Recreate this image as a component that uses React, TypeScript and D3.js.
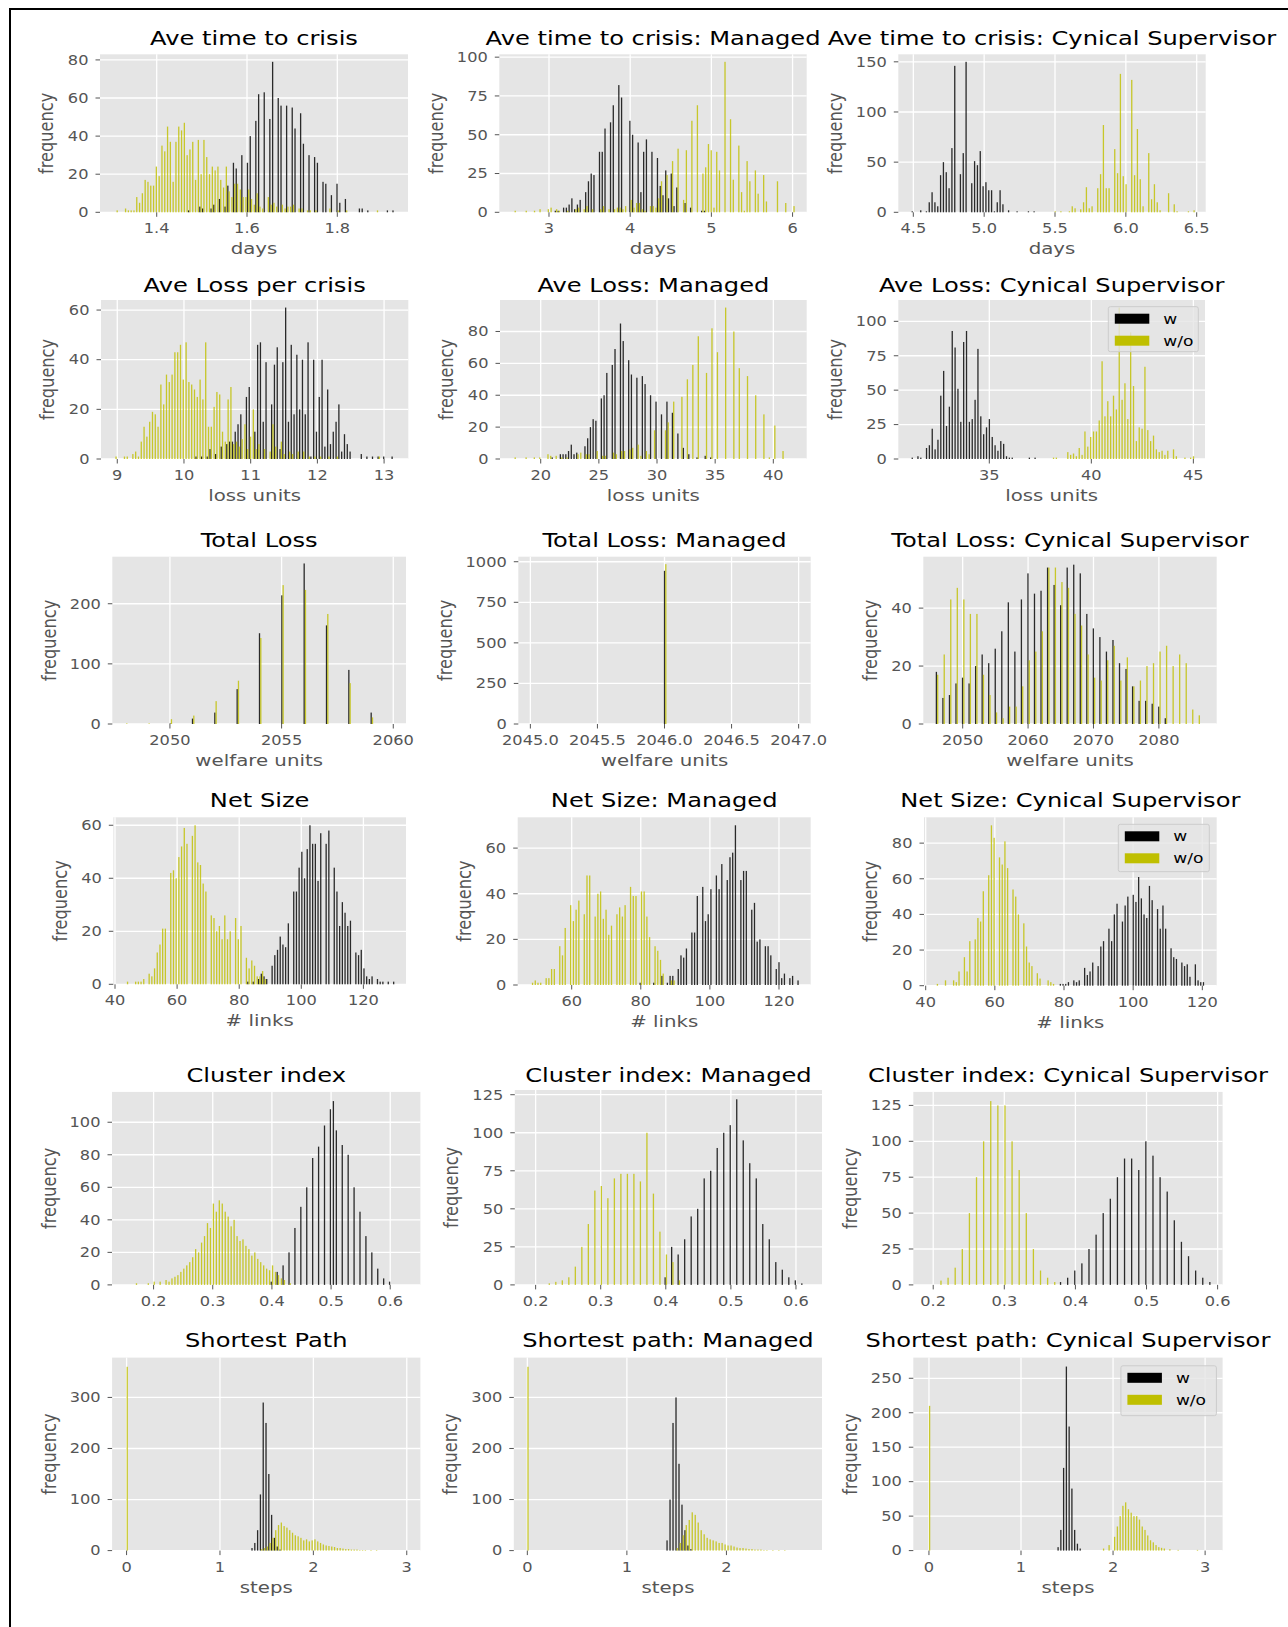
import React from "react";
import * as d3 from "d3";

// text in the picture is stretched sideways, so every label is scaled by this
const SX = 1.22;
const FONT = "DejaVu Sans, Verdana, sans-serif";
const BLACK = "#000000";
const YELLOW = "#bfbf00";

// ---- counts per histogram bin; w = black series, wo = yellow series ----
const crisisW = [0,0,0,0,0,0,0,0,0,0, 0,0,0,0,0,0,0,0,0,0, 0,0,0,0,0,0,1,0,0,0, 3,2,0,0,2,4,0,7,0,3, 14,0,26,23,0,30,0,26,40,0, 48,62,0,63,0,49,79,0,60,56, 0,56,0,55,44,0,52,36,0,30, 0,29,26,0,16,15,0,9,0,15, 5,0,7,0,0,0,0,2,2,0, 1,0,0,0,0,0,0,1,0,1];
const crisisWo = [1,0,0,2,1,1,1,8,5,10, 17,16,14,14,24,19,35,32,45,37, 16,37,45,43,47,30,33,37,17,38, 20,38,29,20,24,22,24,17,13,24, 11,8,15,15,12,8,8,12,7,4, 10,3,2,0,8,4,5,3,0,4, 2,3,3,4,0,2,2,0,1,1, 0,1,0,0,0,0,2,0,0,1, 0,0,1,0,0,0,0,0,0,0, 0,0,0,1];

const mCrisisW = [0,0,0,0,0,0,0,0,0,0, 0,0,0,0,0,1,1,0,3,3, 5,9,2,5,8,0,13,20,25,24, 0,39,39,54,0,58,69,0,82,74, 0,0,59,50,0,45,13,39,47,0, 39,0,35,17,11,27,9,25,4,16, 0,0,6,0,3,0,0,0,1,1];
const mCrisisWo = [1,0,0,0,1,0,0,1,0,2, 0,0,2,3,0,2,1,0,0,1, 0,0,2,3,0,2,4,0,2,0, 0,2,4,0,2,0,2,3,3,2, 4,0,8,3,6,6,2,1,0,4, 4,3,9,20,0,24,0,33,0,41, 0,8,40,0,59,0,69,0,25,29, 44,40,3,39,27,0,97,0,60,21, 0,43,13,1,33,20,0,27,12,0, 24,7,0,0,0,20,0,0,6,0, 0,4];

const cCrisisW = [1,0,0,2,0,1,10,20,10,6, 37,50,40,24,64,146,0,38,59,150, 0,29,51,47,61,26,30,22,22,1, 10,22,8,0,2,0,0,1,0,0, 0,1,0,1];
const cCrisisWo = [0,0,0,0,0,0,0,0,0,0, 0,0,0,0,0,0,0,0,0,0, 0,0,0,0,0,0,0,0,0,0, 0,0,0,0,0,0,0,0,0,0, 0,0,0,0,0,0,0,0,0,0, 1,0,1,0,0,1,6,4,0,3, 10,25,4,6,0,24,38,87,24,24, 0,63,39,138,36,28,0,132,37,83, 33,6,0,59,13,28,10,2,0,0, 19,0,8,1,0,0,0,1,0,2];

const lossW = [0,0,0,0,0,0,0,0,0,0, 0,0,0,0,0,0,0,0,0,0, 0,0,0,0,0,0,0,0,0,1, 0,1,0,1,4,0,2,0,5,0, 6,7,7,11,14,18,0,25,29,0, 11,46,47,15,39,0,22,38,45,4, 39,61,15,46,18,42,20,40,18,47, 1,40,11,25,40,5,28,6,11,15, 22,3,10,6,3,0,0,0,2,0, 1,0,1,0,1,0,1,0,0,1];
const lossWo = [1,0,0,1,1,0,2,3,1,7, 13,9,15,19,18,13,30,22,34,31, 34,43,43,46,32,47,31,30,28,25, 32,24,47,13,13,21,27,26,11,7, 24,29,6,7,5,8,14,4,9,20, 4,6,0,4,0,3,14,5,0,7, 2,0,3,2,0,3,0,3,0,1, 0,1,0,1,0,0,1,0,0,1, 0,0,0,0,0,0,0,0,0,0, 0,0,0,0,1];

const mLossW = [0,0,0,0,0,0,0,0,0,0, 0,0,0,0,1,0,0,3,3,3, 5,9,3,4,0,0,8,13,20,25, 24,0,38,40,54,0,59,69,0,85, 74,0,62,53,0,51,0,52,47,0, 40,0,36,0,28,0,36,0,29,0, 16,0,7,0,3,0,0,1,0,0, 2,0,1];
const mLossWo = [1,0,0,0,1,0,0,1,0,1, 0,0,3,2,0,2,0,1,0,1, 0,0,0,3,4,0,3,3,0,0, 5,0,2,2,0,0,4,3,0,5, 5,0,6,7,0,9,2,0,5,3, 0,18,0,0,0,18,23,0,36,0, 0,39,0,50,0,59,0,77,0,0, 54,0,82,0,67,0,0,95,0,0, 80,0,57,0,0,52,0,0,40,0, 0,28,0,1,0,21,0,0,5];

const cLossW = [1,0,2,1,0,8,10,22,7,14, 46,64,24,38,93,81,51,27,85,93, 27,29,43,80,31,18,23,29,16,10, 6,13,11,2,1,1,0,0,0,0, 0,1,0,1];
const cLossWo = [0,0,0,0,0,0,0,0,0,0, 0,0,0,0,0,0,0,0,0,0, 0,0,0,0,0,0,0,0,0,0, 0,0,0,0,0,0,0,0,0,0, 0,0,0,0,0,0,0,0,0,1, 1,0,0,0,5,3,4,2,8,3, 20,9,16,20,20,28,71,31,42,31, 46,36,110,43,55,29,92,53,13,23, 22,67,21,13,17,7,5,6,3,6, 0,7,2,0,0,1,0,1,2];

const totalW = [0,0,1,9,19,58,151,214,267,164,90,19];
const totalWo = [1,1,8,14,38,72,143,231,223,183,68,11];

const mTotalW = [944];
const mTotalWo = [985];

const cTotalW = [18,9,10,14,16,14,20,24,21,26, 32,42,25,43,52,45,46,54,48,41, 54,55,52,38,33,30,25,29,21,19, 13,8,8,7,6,2];
const cTotalWo = [17,24,43,47,43,38,38,17,10,4, 2,6,6,13,22,25,32,54,54,49, 47,38,34,24,16,15,22,27,15,23, 13,15,20,21,25,27,20,24,21,5, 3];

const sizeW = [0,0,0,0,0,0,0,0,0,0, 0,0,0,0,0,0,0,0,0,0, 0,0,0,0,0,0,0,0,0,0, 0,0,0,0,0,0,0,0,0,0, 0,0,0,0,0,1,0,1,0,2, 4,3,2,0,7,11,13,18,15,14, 23,0,35,35,44,50,40,51,60,53, 53,39,57,0,53,58,0,44,35,22, 31,27,22,24,0,12,11,13,6,3, 2,3,0,2,1,1,0,1,0,1];
const sizeWo = [1,0,0,1,1,1,2,0,4,3, 6,12,15,21,21,0,42,43,40,48, 52,59,53,0,56,60,46,45,38,35, 0,26,25,20,22,17,26,17,20,0, 25,17,22,0,10,6,9,7,3,3, 5,2];

const mSizeW = [0,0,0,0,0,0,0,0,0,0, 0,0,0,0,0,0,0,0,0,0, 0,0,0,0,0,0,0,0,0,0, 0,0,0,0,0,0,0,0,0,0, 1,0,0,0,0,1,0,0,4,0, 1,4,4,0,7,13,12,16,0,23, 23,39,0,43,28,31,42,0,48,42, 53,0,46,56,58,70,0,46,50,50, 0,33,36,19,20,0,17,17,13,0, 7,10,3,5,0,3,4,0,2];
const mSizeWo = [1,2,1,1,0,3,3,7,7,0, 17,13,25,0,35,28,33,37,0,31, 48,48,0,30,40,41,29,33,22,26, 0,31,34,30,35,0,43,39,39,0, 41,41,30,21,0,17,15,11,5,0, 0,2,2];

const cSizeW = [0,0,0,0,0,0,0,0,0,0, 0,0,0,0,0,0,0,0,0,0, 0,0,0,0,0,0,0,0,0,0, 0,0,0,0,0,0,0,0,0,0, 0,0,0,0,0,0,1,1,1,2, 0,3,2,3,0,10,6,8,13,0, 11,22,25,0,32,25,40,46,0,36, 45,50,0,51,47,61,49,40,38,56, 48,0,43,32,45,32,0,21,16,15, 0,13,11,12,5,0,12,3,2,2];
const cSizeWo = [1,0,0,3,0,0,3,2,8,0, 16,8,25,0,26,38,36,53,0,62, 90,83,0,72,68,81,66,0,54,50, 40,0,35,22,13,11,0,7,4,0, 0,3,2,1];

const clusterW = [0,0,0,0,0,0,0,0,0,0, 0,0,0,0,0,0,0,0,0,0, 0,0,0,0,0,0,0,0,0,0, 0,0,0,0,0,0,0,0,0,0, 0,0,0,0,0,0,0,0,0,0, 2,0,8,0,12,0,20,0,35,0, 48,0,60,0,78,0,85,0,98,0, 108,113,95,0,86,0,80,0,60,0, 45,0,30,0,20,0,10,0,4,0, 2];
const clusterWo = [0,0,0,0,1,0,0,0,1,0, 2,0,2,0,3,2,4,5,6,8, 10,12,14,17,22,20,26,30,38,35, 50,45,52,50,45,42,36,40,30,27, 28,24,22,18,20,16,14,12,10,9, 12,8,6,4,3,0,1];

const mClusterW = [0,0,0,0,0,0,0,0,0,0, 0,0,0,0,0,0,0,0,0,0, 5,25,20,30,45,50,70,75,90,100, 105,122,95,80,70,40,30,15,10,5, 3,1];
const mClusterWo = [0,0,1,2,3,5,12,25,40,62, 65,57,70,73,73,73,68,100,60,35, 20,15,3];

const cClusterW = [0,0,0,0,0,0,0,0,0,0, 0,0,0,0,0,0,0,0,2,5, 10,15,25,35,50,60,75,88,88,80, 100,90,75,65,45,30,20,10,5,2];
const cClusterWo = [0,3,5,12,25,50,75,100,128,125, 125,100,80,50,25,10,5,2];

const pathW = [0,0,0,0,0,0,0,0,0,0, 0,0,0,0,0,0,0,0,0,0, 0,0,0,0,0,0,0,0,0,0, 0,0,0,0,0,0,0,0,0,0, 0,0,0,0,0,5,15,40,110,290, 250,150,70,25,8,2];
const pathWo = [360,0,0,0,0,0,0,0,0,0, 0,0,0,0,0,0,0,0,0,0, 0,0,0,0,0,0,0,0,0,0, 0,0,0,0,0,0,0,0,0,0, 0,0,0,0,0,0,0,0,3,5, 8,15,25,40,50,55,48,45,40,35, 30,28,25,20,22,18,20,22,18,15, 12,10,9,8,7,5,5,4,3,3, 2,2,2,1,1,1,0,1,0,1];

const mPathW = [0,0,0,0,0,0,0,0,0,0, 0,0,0,0,0,0,0,0,0,0, 0,0,0,0,0,0,0,0,0,0, 0,0,0,0,0,0,0,0,0,0, 0,0,0,0,0,0,0,20,100,250, 300,170,90,40,10,3];
const mPathWo = [360,0,0,0,0,0,0,0,0,0, 0,0,0,0,0,0,0,0,0,0, 0,0,0,0,0,0,0,0,0,0, 0,0,0,0,0,0,0,0,0,0, 0,0,0,0,0,0,0,0,0,0, 5,15,30,50,60,75,70,55,40,32, 25,22,20,18,15,15,12,10,10,8, 6,5,5,4,3,3,2,2,2,1, 1,0,1,0,1,0,1];

const cPathW = [0,0,0,0,0,0,0,0,0,0, 0,0,0,0,0,0,0,0,0,0, 0,0,0,0,0,0,0,0,0,0, 0,0,0,0,0,0,0,0,0,0, 0,0,0,0,0,0,0,5,30,120, 267,180,90,30,10,3];
const cPathWo = [210,0,0,0,0,0,0,0,0,0, 0,0,0,0,0,0,0,0,0,0, 0,0,0,0,0,0,0,0,0,0, 0,0,0,0,0,0,0,0,0,0, 0,0,0,0,0,0,0,0,0,0, 0,0,0,0,0,0,0,0,0,0, 0,0,0,3,0,8,0,20,35,50, 65,70,60,55,50,50,45,35,30,22, 15,12,8,5,4,3,0,2,0,0, 1,0,0,0,0,0,0,1];

const titles = [
  "Ave time to crisis", "Ave time to crisis: Managed", "Ave time to crisis: Cynical Supervisor",
  "Ave Loss per crisis", "Ave Loss: Managed", "Ave Loss: Cynical Supervisor",
  "Total Loss", "Total Loss: Managed", "Total Loss: Cynical Supervisor",
  "Net Size", "Net Size: Managed", "Net Size: Cynical Supervisor",
  "Cluster index", "Cluster index: Managed", "Cluster index: Cynical Supervisor",
  "Shortest Path", "Shortest path: Managed", "Shortest path: Cynical Supervisor",
];
const xLabels = ["days", "loss units", "welfare units", "# links", "", "steps"];
const legendNames = ["w", "w/o"];

type Panel = {
  box: [number, number, number, number];
  xDomain: [number, number];
  yMax: number;
  xTicks: number[];
  xFmt: string;
  yTicks: number[];
  start: number;
  step: number;
  binW: number;
  w: number[];
  wo: number[];
  legend?: [number, number, number, number];
};

const panels: Panel[] = [
  { box: [100, 408, 54.3, 212.3], xDomain: [1.2744, 1.9566], yMax: 82.95, xTicks: [1.4, 1.6, 1.8], xFmt: ".1f", yTicks: [0, 20, 40, 60, 80], start: 1.311, step: 0.0062, binW: 0.0062, w: crisisW, wo: crisisWo },
  { box: [499.3, 806.7, 54.3, 212.3], xDomain: [2.388, 6.174], yMax: 101.85, xTicks: [3, 4, 5, 6], xFmt: "d", yTicks: [0, 25, 50, 75, 100], start: 2.576, step: 0.034, binW: 0.034, w: mCrisisW, wo: mCrisisWo },
  { box: [898.3, 1205.7, 54.3, 212.3], xDomain: [4.394, 6.5635], yMax: 157.5, xTicks: [4.5, 5, 5.5, 6, 6.5], xFmt: ".1f", yTicks: [0, 50, 100, 150], start: 4.497, step: 0.02, binW: 0.02, w: cCrisisW, wo: cCrisisWo },
  { box: [101, 408.3, 300, 459], xDomain: [8.756, 13.363], yMax: 64.05, xTicks: [9, 10, 11, 12, 13], xFmt: "d", yTicks: [0, 20, 40, 60], start: 8.972, step: 0.042, binW: 0.042, w: lossW, wo: lossWo },
  { box: [500, 806.7, 300, 459], xDomain: [16.5, 42.87], yMax: 99.75, xTicks: [20, 25, 30, 35, 40], xFmt: "d", yTicks: [0, 20, 40, 60, 80], start: 17.75, step: 0.235, binW: 0.235, w: mLossW, wo: mLossWo },
  { box: [898.3, 1205, 300, 459], xDomain: [30.54, 45.57], yMax: 115.5, xTicks: [35, 40, 45], xFmt: "d", yTicks: [0, 25, 50, 75, 100], start: 31.255, step: 0.14, binW: 0.14, w: cLossW, wo: cLossWo, legend: [1108.3, 306.7, 1198.3, 351.7] },
  { box: [112.3, 406, 556.7, 724], xDomain: [2047.42, 2060.57], yMax: 278.25, xTicks: [2050, 2055, 2060], xFmt: "d", yTicks: [0, 100, 200], start: 2048.04, step: 1, binW: 0.11, w: totalW, wo: totalWo },
  { box: [518.3, 810.7, 556.7, 724], xDomain: [2044.91, 2047.09], yMax: 1031, xTicks: [2045, 2045.5, 2046, 2046.5, 2047], xFmt: ".1f", yTicks: [0, 250, 500, 750, 1000], start: 2046.005, step: 1, binW: 0.01, w: mTotalW, wo: mTotalWo },
  { box: [923.3, 1216.7, 556.7, 724], xDomain: [2043.98, 2088.84], yMax: 57.75, xTicks: [2050, 2060, 2070, 2080], xFmt: "d", yTicks: [0, 20, 40], start: 2046.08, step: 1, binW: 0.4, w: cTotalW, wo: cTotalWo },
  { box: [113.3, 406, 817.3, 984.3], xDomain: [39.45, 133.72], yMax: 63, xTicks: [40, 60, 80, 100, 120], xFmt: "d", yTicks: [0, 20, 40, 60], start: 43.83, step: 0.87, binW: 0.87, w: sizeW, wo: sizeWo },
  { box: [517.7, 810.7, 817.3, 985], xDomain: [44.37, 129.18], yMax: 73.5, xTicks: [60, 80, 100, 120], xFmt: "d", yTicks: [0, 20, 40, 60], start: 48.48, step: 0.788, binW: 0.788, w: mSizeW, wo: mSizeWo },
  { box: [924, 1216.7, 817.3, 985.7], xDomain: [39.51, 124.16], yMax: 94.5, xTicks: [40, 60, 80, 100, 120], xFmt: "d", yTicks: [0, 20, 40, 60, 80], start: 43.2, step: 0.781, binW: 0.781, w: cSizeW, wo: cSizeWo, legend: [1118.3, 824.3, 1209.3, 871.7] },
  { box: [112, 420.4, 1091.9, 1284.9], xDomain: [0.1297, 0.651], yMax: 118.65, xTicks: [0.2, 0.3, 0.4, 0.5, 0.6], xFmt: ".1f", yTicks: [0, 20, 40, 60, 80, 100], start: 0.15, step: 0.005, binW: 0.0044, w: clusterW, wo: clusterWo },
  { box: [514.8, 822, 1090, 1284.9], xDomain: [0.168, 0.64], yMax: 128.1, xTicks: [0.2, 0.3, 0.4, 0.5, 0.6], xFmt: ".1f", yTicks: [0, 25, 50, 75, 100, 125], start: 0.2, step: 0.01, binW: 0.0042, w: mClusterW, wo: mClusterWo },
  { box: [913.3, 1222.6, 1091.9, 1284.9], xDomain: [0.172, 0.607], yMax: 134.4, xTicks: [0.2, 0.3, 0.4, 0.5, 0.6], xFmt: ".1f", yTicks: [0, 25, 50, 75, 100, 125], start: 0.2, step: 0.01, binW: 0.004, w: cClusterW, wo: cClusterWo },
  { box: [112.1, 420.4, 1357.6, 1550.6], xDomain: [-0.155, 3.146], yMax: 378, xTicks: [0, 1, 2, 3], xFmt: "d", yTicks: [0, 100, 200, 300], start: 0, step: 0.03, binW: 0.03, w: pathW, wo: pathWo },
  { box: [513.8, 822, 1357.6, 1550.6], xDomain: [-0.136, 2.96], yMax: 378, xTicks: [0, 1, 2], xFmt: "d", yTicks: [0, 100, 200, 300], start: 0, step: 0.03, binW: 0.027, w: mPathW, wo: mPathWo },
  { box: [913.3, 1222.6, 1357.6, 1550.6], xDomain: [-0.17, 3.19], yMax: 280, xTicks: [0, 1, 2, 3], xFmt: "d", yTicks: [0, 50, 100, 150, 200, 250], start: 0, step: 0.03, binW: 0.03, w: cPathW, wo: cPathWo, legend: [1120.9, 1365.8, 1216.4, 1415.7] },
];

const rowTitleY = [45, 291.7, 546.7, 807.3, 1081.5, 1347];

function Label({ x, y, size, fill = "#555555", anchor = "middle", rotate = false, dy, children }: any) {
  return (
    <text
      transform={`translate(${x},${y}) scale(${SX},1)${rotate ? " rotate(-90)" : ""}`}
      fontSize={size}
      fill={fill}
      textAnchor={anchor}
      dy={dy}
      fontFamily={FONT}
    >
      {children}
    </text>
  );
}

function Hist({ p, index }: { p: Panel; index: number }) {
  const [x0, x1, y0, y1] = p.box;
  const x = d3.scaleLinear().domain(p.xDomain).range([x0, x1]);
  const y = d3.scaleLinear().domain([0, p.yMax]).range([y1, y0]);
  const bw = Math.max(0.4 * (x(p.binW) - x(0)), 1.3);
  const fx = d3.format(p.xFmt);
  const yLabels = p.yTicks.map((t) => d3.format("d")(t));
  const maxChars = d3.max(yLabels, (s) => s.length) ?? 1;
  const row = Math.floor(index / 3);
  const series = [
    { vals: p.w, color: BLACK, side: -1 },
    { vals: p.wo, color: YELLOW, side: 1 },
  ];

  return (
    <g>
      <rect x={x0} y={y0} width={x1 - x0} height={y1 - y0} fill="#e5e5e5" />
      {p.xTicks.map((t) => (
        <line key={"gx" + t} x1={x(t)} x2={x(t)} y1={y0} y2={y1} stroke="#ffffff" strokeWidth={1.3} />
      ))}
      {p.yTicks.map((t) => (
        <line key={"gy" + t} x1={x0} x2={x1} y1={y(t)} y2={y(t)} stroke="#ffffff" strokeWidth={1.3} />
      ))}
      {series.map((s, si) =>
        s.vals.map((v, i) => {
          if (!v) return null;
          const c = x(p.start + i * p.step);
          return (
            <rect
              key={si + "-" + i}
              x={s.side < 0 ? c - bw : c}
              y={y(v)}
              width={bw}
              height={y1 - y(v)}
              fill={s.color}
              fillOpacity={0.82}
            />
          );
        })
      )}

      {p.xTicks.map((t) => (
        <g key={"tx" + t}>
          <line x1={x(t)} x2={x(t)} y1={y1} y2={y1 + 4.5} stroke="#555555" strokeWidth={1} />
          <Label x={x(t)} y={y1 + 21} size={13.3}>{fx(t)}</Label>
        </g>
      ))}
      {p.yTicks.map((t, i) => (
        <g key={"ty" + t}>
          <line x1={x0 - 4.5} x2={x0} y1={y(t)} y2={y(t)} stroke="#555555" strokeWidth={1} />
          <Label x={x0 - 11.5} y={y(t)} size={13.3} anchor="end" dy="0.36em">{yLabels[i]}</Label>
        </g>
      ))}

      <Label x={(x0 + x1) / 2} y={rowTitleY[row]} size={19.8} fill="#000000">{titles[index]}</Label>
      {xLabels[row] && (
        <Label x={(x0 + x1) / 2} y={y1 + 42} size={16.2}>{xLabels[row]}</Label>
      )}
      <Label x={x0 - (33 + 9.8 * maxChars)} y={(y0 + y1) / 2} size={16.2} rotate dy="0.3em">frequency</Label>

      {p.legend && (
        <g>
          <rect
            x={p.legend[0]}
            y={p.legend[1]}
            width={p.legend[2] - p.legend[0]}
            height={p.legend[3] - p.legend[1]}
            fill="#e5e5e5"
            fillOpacity={0.8}
            stroke="#cccccc"
            strokeWidth={1}
            rx={2}
          />
          {[BLACK, YELLOW].map((col, i) => (
            <g key={col}>
              <rect x={p.legend![0] + 6.5} y={p.legend![1] + 7 + i * 22} width={34.5} height={10} fill={col} />
              <Label x={p.legend![0] + 55} y={p.legend![1] + 12 + i * 22} size={14} fill="#000000" anchor="start" dy="0.36em">
                {legendNames[i]}
              </Label>
            </g>
          ))}
        </g>
      )}
    </g>
  );
}

export default function App() {
  return (
    <svg
      width={1288}
      height={1627}
      viewBox="0 0 1288 1627"
      style={{ position: "absolute", left: 0, top: 0, background: "#ffffff" }}
    >
      <rect x={0} y={0} width={1288} height={1627} fill="#ffffff" />
      <line x1={9} x2={1288} y1={9} y2={9} stroke="#000000" strokeWidth={2} />
      <line x1={10} x2={10} y1={8} y2={1627} stroke="#000000" strokeWidth={2} />
      {panels.map((p, i) => (
        <Hist key={i} p={p} index={i} />
      ))}
    </svg>
  );
}
